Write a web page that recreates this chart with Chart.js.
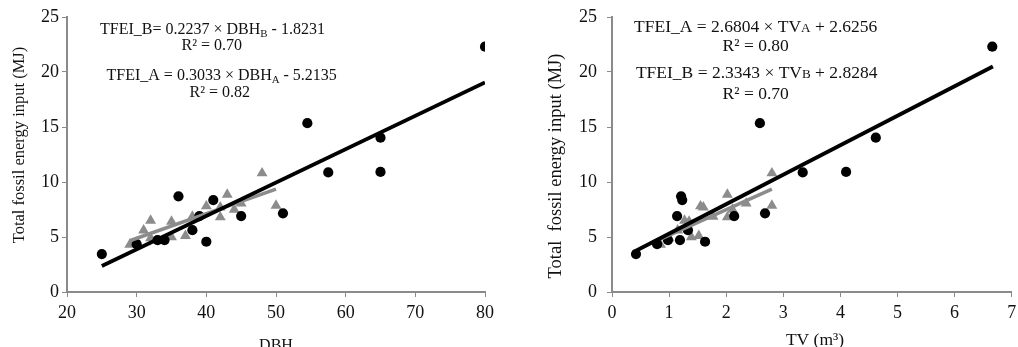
<!DOCTYPE html>
<html>
<head>
<meta charset="utf-8">
<script src="https://cdn.jsdelivr.net/npm/chart.js@4/dist/chart.umd.min.js"></script>
<style>
  html, body { margin: 0; padding: 0; background: #fff; }
  #wrap { position: relative; width: 1018px; height: 347px; overflow: hidden; }
  .box { position: absolute; top: 0; width: 509px; height: 347px; }
  #boxL { left: 0; }
  #boxR { left: 509px; }
</style>
</head>
<body>
<div id="wrap">
  <div class="box" id="boxL"><canvas id="cL" width="509" height="347"></canvas></div>
  <div class="box" id="boxR"><canvas id="cR" width="509" height="347"></canvas></div>
</div>
<script>
// ---- Data ----
// Group A (black circles)
const tfeiA = [3.45, 4.35, 4.57, 4.72, 4.72, 5.62, 6.9, 6.9, 7.15, 8.36, 8.7, 10.87, 10.92, 14.03, 15.35, 22.3];
const dbhA  = [25,   30,   40,   33,   34,   38,   39,  45,  51,   41,   36,  57.5,  65,    65,    54.5,  80];
const tvA   = [0.42, 0.79, 1.63, 0.98, 1.19, 1.33, 1.14, 2.14, 2.68, 1.23, 1.21, 3.34, 4.1, 4.62, 2.59, 6.66];
// Group B (grey triangles)
const tfeiB = [4.3, 5.6, 6.5, 4.9, 6.4, 5.0, 5.1, 6.85, 7.8, 6.8, 8.85, 7.5, 7.7, 8.05, 10.8, 7.85];
const dbhB  = [29,  31,  32,  32,  35,  35,  37,  38,   40,  42,  43,   44,  42,  45,   48,   50];
const tvB   = [0.85, 1.15, 1.27, 1.0, 1.35, 1.39, 1.52, 1.77, 1.55, 2.02, 2.02, 2.11, 1.6, 2.35, 2.8, 2.8];
// Trend line end points (as drawn)
const trendA_dbh = { x: [25, 80], y: [2.37, 19.05] };
const trendB_dbh = { x: [29, 50], y: [4.66, 9.36] };
const trendA_tv  = { x: [0.42, 6.67], y: [3.75, 20.5] };
const trendB_tv  = { x: [0.85, 2.8], y: [4.81, 9.36] };
// Axis ticks
const yTicks = [0, 5, 10, 15, 20, 25];
const dbhTicks = [20, 30, 40, 50, 60, 70, 80];
const tvTicks = [0, 1, 2, 3, 4, 5, 6, 7];

const SERIF = '"Liberation Serif", "Times New Roman", serif';
const AXIS = '#8a8a8a';
const GREY = '#8c8c8c';

function pts(xs, ys) { return xs.map((x, i) => ({ x: x, y: ys[i] })); }

function textPlugin(lines, yTitle, xTitle) {
  return {
    id: 'txt',
    afterDraw(chart) {
      const ctx = chart.ctx;
      ctx.save();
      ctx.fillStyle = '#111';
      ctx.textBaseline = 'middle';
      ctx.textAlign = 'left';
      lines.forEach(l => {
        let total = 0;
        const segs = l.segs.map(s => {
          const size = s.sub ? l.size * 0.68 : (s.sc ? l.size * 0.75 : l.size);
          ctx.font = size + 'px ' + SERIF;
          const w = ctx.measureText(s.t).width;
          total += w;
          return { t: s.t, size: size, w: w, dy: s.sub ? l.size * 0.28 : (s.sc ? l.size * 0.1 : 0) };
        });
        let x = l.cx - total / 2;
        segs.forEach(s => {
          ctx.font = s.size + 'px ' + SERIF;
          ctx.fillText(s.t, x, l.cy + s.dy);
          x += s.w;
        });
      });
      // y title
      ctx.font = yTitle.size + 'px ' + SERIF;
      ctx.textAlign = 'center';
      ctx.translate(yTitle.cx, yTitle.cy);
      ctx.rotate(-Math.PI / 2);
      ctx.fillText(yTitle.t, 0, 0);
      ctx.setTransform(1, 0, 0, 1, 0, 0);
      ctx.font = xTitle.size + 'px ' + SERIF;
      ctx.fillText(xTitle.t, xTitle.cx, xTitle.cy);
      ctx.restore();
    }
  };
}

function makeChart(id, cfg) {
  const tickSet = (vals) => (scale) => { scale.ticks = vals.map(v => ({ value: v })); };
  return new Chart(document.getElementById(id), {
    type: 'scatter',
    data: {
      datasets: [
        { type: 'line', data: cfg.trendB, borderColor: GREY, borderWidth: 3.5, pointRadius: 0, fill: false, order: 1 },
        { type: 'line', data: cfg.trendA, borderColor: '#000', borderWidth: 3.8, pointRadius: 0, fill: false, order: 0 },
        { data: cfg.ptsB, pointStyle: 'triangle', pointRadius: 6.3, backgroundColor: GREY, borderColor: GREY, borderWidth: 0, order: 3 },
        { data: cfg.ptsA, pointStyle: 'circle', pointRadius: 5.1, backgroundColor: '#000', borderColor: '#000', borderWidth: 0, order: 2 }
      ]
    },
    options: {
      responsive: false,
      animation: false,
      events: [],
      layout: { padding: { top: 17, right: cfg.padRight, left: 0, bottom: 0 } },
      plugins: { legend: { display: false }, tooltip: { enabled: false } },
      scales: {
        x: {
          type: 'linear', min: cfg.xTicks[0], max: cfg.xTicks[cfg.xTicks.length - 1],
          afterBuildTicks: tickSet(cfg.xTicks),
          ticks: { font: { family: SERIF, size: 18 }, color: '#111', padding: 5, maxRotation: 0, autoSkip: false },
          grid: { display: true, drawOnChartArea: false, drawTicks: true, tickLength: 5, color: AXIS, lineWidth: 1 },
          border: { display: true, color: AXIS, width: 2 },
          afterFit(s) { s.height = 55; s.paddingLeft = 0; s.paddingRight = 0; }
        },
        y: {
          type: 'linear', min: 0, max: 25,
          afterBuildTicks: tickSet(yTicks),
          ticks: { font: { family: SERIF, size: 18 }, color: '#111', padding: cfg.yPad, autoSkip: false },
          grid: { display: true, drawOnChartArea: false, drawTicks: true, tickLength: 5, color: AXIS, lineWidth: 1 },
          border: { display: true, color: AXIS, width: 2 },
          afterFit(s) { s.width = cfg.yWidth; s.paddingTop = 0; s.paddingBottom = 0; }
        }
      }
    },
    plugins: [textPlugin(cfg.lines, cfg.yTitle, cfg.xTitle)]
  });
}

makeChart('cL', {
  ptsA: pts(dbhA, tfeiA), ptsB: pts(dbhB, tfeiB),
  trendA: pts(trendA_dbh.x, trendA_dbh.y), trendB: pts(trendB_dbh.x, trendB_dbh.y),
  xTicks: dbhTicks, padRight: 24, yWidth: 67, yPad: 3,
  lines: [
    { cx: 212.5, cy: 30, size: 16, segs: [{ t: 'TFEI_B= 0.2237 × DBH' }, { t: 'B', sub: true }, { t: ' - 1.8231' }] },
    { cx: 211.7, cy: 46, size: 16, segs: [{ t: 'R² = 0.70' }] },
    { cx: 221.7, cy: 76, size: 16, segs: [{ t: 'TFEI_A = 0.3033 × DBH' }, { t: 'A', sub: true }, { t: ' - 5.2135' }] },
    { cx: 219.7, cy: 93, size: 16, segs: [{ t: 'R² = 0.82' }] }
  ],
  yTitle: { t: 'Total fossil energy input (MJ)', cx: 19.5, cy: 145, size: 16.5 },
  xTitle: { t: 'DBH', cx: 276, cy: 346, size: 16 }
});

makeChart('cR', {
  ptsA: pts(tvA, tfeiA), ptsB: pts(tvB, tfeiB),
  trendA: pts(trendA_tv.x, trendA_tv.y), trendB: pts(trendB_tv.x, trendB_tv.y),
  xTicks: tvTicks, padRight: 2, yWidth: 103, yPad: 10,
  lines: [
    { cx: 246.7, cy: 27, size: 17.5, segs: [{ t: 'TFEI_A = 2.6804 × TV' }, { t: 'A', sc: true }, { t: ' + 2.6256' }] },
    { cx: 246.7, cy: 46.7, size: 17.5, segs: [{ t: 'R² = 0.80' }] },
    { cx: 247.7, cy: 73.3, size: 17.5, segs: [{ t: 'TFEI_B = 2.3343 × TV' }, { t: 'B', sc: true }, { t: ' + 2.8284' }] },
    { cx: 246.7, cy: 94.3, size: 17.5, segs: [{ t: 'R² = 0.70' }] }
  ],
  yTitle: { t: 'Total  fossil energy input (MJ)', cx: 46.7, cy: 166, size: 18.5 },
  xTitle: { t: 'TV (m³)', cx: 306, cy: 340, size: 17.5 }
});
</script>
</body>
</html>
